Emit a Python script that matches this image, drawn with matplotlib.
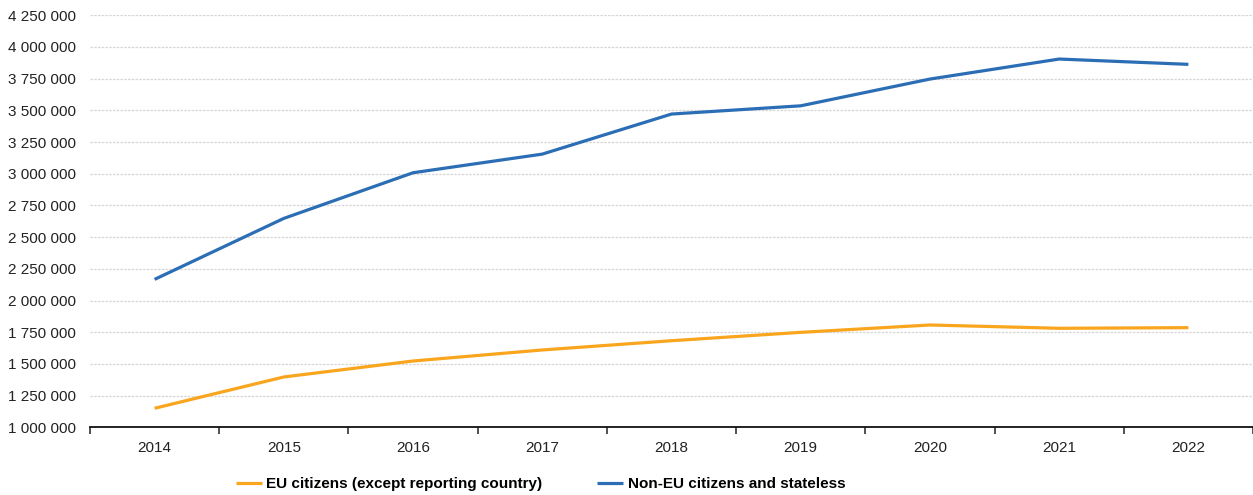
import matplotlib
matplotlib.use("Agg")
import matplotlib.pyplot as plt
from matplotlib.ticker import FuncFormatter, FixedLocator
import numpy as np

plt.rcParams['font.family'] = ['Liberation Sans', 'DejaVu Sans']

years = ["2014", "2015", "2016", "2017", "2018", "2019", "2020", "2021", "2022"]
eu_citizens = [1150000, 1397000, 1523000, 1610000, 1683000, 1749000, 1807000, 1781000, 1786000]
non_eu_citizens = [2167000, 2648000, 3008000, 3155000, 3471000, 3536000, 3747000, 3905000, 3863000]
series_labels = ["EU citizens (except reporting country)", "Non-EU citizens and stateless"]

orange = "#F9A51E"
blue = "#2B6EB5"

fig = plt.figure(figsize=(12.53, 4.95), dpi=100)
ax = fig.add_axes([90 / 1253, 1 - 427.3 / 495, 1 - 90 / 1253, (427.3 - 15.3) / 495])

x = np.arange(len(years))
ax.plot(x, eu_citizens, color=orange, lw=2.3, label=series_labels[0], solid_capstyle="butt")
ax.plot(x, non_eu_citizens, color=blue, lw=2.3, label=series_labels[1], solid_capstyle="butt")

ax.set_xlim(-0.5, len(years) - 0.5)
ax.set_ylim(1000000, 4250000)
ax.set_yticks(np.arange(1000000, 4250001, 250000))
ax.yaxis.set_major_formatter(FuncFormatter(lambda v, p: f"{int(v):,}".replace(",", " ")))

ax.set_xticks(x)
ax.set_xticklabels(years)
ax.xaxis.set_minor_locator(FixedLocator(np.arange(-0.5, len(years), 1.0)))
ax.tick_params(axis="x", which="major", length=0, pad=10, labelsize=11, colors="#222222")
ax.tick_params(axis="x", which="minor", length=5, width=1.2, color="#333333", direction="out")
ax.tick_params(axis="y", length=0, pad=10, labelsize=11, colors="#222222")

ax.grid(axis="y", color="#d6d6d6", lw=0.9, linestyle=(0, (2, 1)))
ax.set_axisbelow(True)
for s in ["top", "right", "left"]:
    ax.spines[s].set_visible(False)
ax.spines["bottom"].set_color("#111111")
ax.spines["bottom"].set_linewidth(1.3)

fig.legend(loc="center", bbox_to_anchor=(540.5 / 1253, 1 - 484 / 495), ncol=2, frameon=False,
           handlelength=1.7, handletextpad=0.3, columnspacing=3.6,
           prop={"weight": "bold", "size": 11})

fig.savefig("out.png", dpi=100)
